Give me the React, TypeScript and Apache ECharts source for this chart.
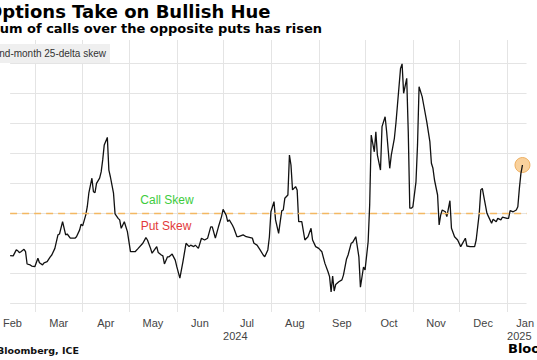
import React, { useEffect, useRef } from "react";
import * as echarts from "echarts";

// Second-month 25-delta skew (call minus put, vol points)
const dates: string[] = [
  "2024-02-14","2024-02-16","2024-02-18","2024-02-19","2024-02-20","2024-02-21","2024-02-23","2024-02-24","2024-02-25","2024-02-27","2024-02-28",
  "2024-03-01","2024-03-03","2024-03-04","2024-03-06","2024-03-07","2024-03-09","2024-03-11","2024-03-12","2024-03-14","2024-03-16","2024-03-17","2024-03-19","2024-03-21","2024-03-22","2024-03-24","2024-03-27","2024-03-28","2024-03-30","2024-03-31",
  "2024-04-01","2024-04-03","2024-04-04","2024-04-05","2024-04-07","2024-04-08","2024-04-09","2024-04-10","2024-04-12","2024-04-13","2024-04-14","2024-04-15","2024-04-17","2024-04-18","2024-04-19","2024-04-20","2024-04-21","2024-04-22","2024-04-24","2024-04-25","2024-04-26","2024-04-28","2024-04-30",
  "2024-05-02","2024-05-03","2024-05-05","2024-05-07","2024-05-10","2024-05-12","2024-05-13","2024-05-15","2024-05-16","2024-05-19","2024-05-20","2024-05-22","2024-05-23","2024-05-24","2024-05-26","2024-05-27","2024-05-29","2024-05-31",
  "2024-06-01","2024-06-03","2024-06-05","2024-06-07","2024-06-09","2024-06-10","2024-06-12","2024-06-13","2024-06-15","2024-06-17","2024-06-19","2024-06-21","2024-06-23","2024-06-24","2024-06-26","2024-06-28","2024-06-30",
  "2024-07-01","2024-07-03","2024-07-04","2024-07-05","2024-07-07","2024-07-08","2024-07-10","2024-07-11","2024-07-14","2024-07-16","2024-07-18","2024-07-20","2024-07-21","2024-07-23","2024-07-25","2024-07-27","2024-07-28","2024-07-30","2024-07-31",
  "2024-08-01","2024-08-03","2024-08-04","2024-08-06","2024-08-08","2024-08-09","2024-08-10","2024-08-12","2024-08-13","2024-08-14","2024-08-15","2024-08-17","2024-08-18","2024-08-19","2024-08-21","2024-08-23","2024-08-25","2024-08-27","2024-08-28","2024-08-30",
  "2024-09-01","2024-09-03","2024-09-05","2024-09-07","2024-09-08","2024-09-09","2024-09-10","2024-09-11","2024-09-12","2024-09-14","2024-09-16","2024-09-17","2024-09-19","2024-09-20","2024-09-22","2024-09-23","2024-09-25","2024-09-27","2024-09-28","2024-09-30",
  "2024-10-01","2024-10-03","2024-10-04","2024-10-05","2024-10-07","2024-10-08","2024-10-09","2024-10-11","2024-10-12","2024-10-14","2024-10-15","2024-10-17","2024-10-18","2024-10-20","2024-10-21","2024-10-22","2024-10-24","2024-10-25","2024-10-26","2024-10-28","2024-10-29","2024-10-30","2024-10-31",
  "2024-11-01","2024-11-03","2024-11-04","2024-11-05","2024-11-07","2024-11-08","2024-11-10","2024-11-12","2024-11-13","2024-11-14","2024-11-15","2024-11-17","2024-11-18","2024-11-19","2024-11-20","2024-11-22","2024-11-23","2024-11-25","2024-11-26","2024-11-28","2024-11-30",
  "2024-12-02","2024-12-05","2024-12-06","2024-12-08","2024-12-11","2024-12-12","2024-12-14","2024-12-15","2024-12-16","2024-12-17","2024-12-19","2024-12-20","2024-12-22","2024-12-23","2024-12-25","2024-12-26","2024-12-28","2024-12-29",
  "2025-01-01","2025-01-02","2025-01-03","2025-01-05","2025-01-07","2025-01-08","2025-01-09","2025-01-10","2025-01-11",
];

const skew: number[] = [
  -1.42,-1.43,-1.23,-1.26,-1.32,-1.29,-1.21,-1.29,-1.70,-1.73,-1.77,
  -1.79,-1.51,-1.66,-1.73,-1.66,-1.62,-1.46,-1.40,-1.18,-0.73,-0.70,-0.29,-0.73,-0.70,-0.84,-0.84,-0.79,-0.57,-0.37,
  -0.43,-0.07,0.21,0.66,1.16,0.71,0.68,0.99,1.16,1.37,1.77,2.27,2.52,1.43,1.20,0.93,0.66,-0.03,-0.18,-0.23,-0.51,-0.29,-0.62,
  -1.29,-1.29,-1.29,-1.18,-1.01,-0.82,-0.90,-1.18,-1.34,-1.12,-1.32,-1.40,-1.43,-1.70,-1.46,-1.46,-1.37,-1.57,
  -1.79,-2.17,-1.62,-1.01,-1.12,-1.07,-1.12,-1.07,-1.18,-0.84,-0.90,-0.84,-0.46,-0.46,-0.84,-0.46,-0.12,
  0.12,-0.07,-0.29,-0.23,-0.40,-0.51,-0.79,-0.79,-0.73,-0.79,-0.81,-0.84,-1.01,-1.07,-1.23,-1.40,-1.46,-1.23,-0.80,
  0.04,0.38,-0.23,-0.68,0.07,0.10,0.49,0.60,1.93,1.60,0.77,0.88,0.77,-0.29,-0.29,-0.90,-0.79,-0.51,-0.90,-1.12,
  -1.18,-1.29,-1.68,-1.96,-2.12,-2.63,-2.10,-2.60,-2.38,-2.29,-2.23,-2.07,-1.53,-1.40,-1.01,-0.98,-0.79,-1.46,-2.47,-1.80,
  -1.90,-0.96,0.27,2.60,2.04,2.71,1.93,1.43,2.88,3.21,2.71,1.49,1.93,2.49,2.99,3.60,4.82,4.97,3.99,4.49,2.71,0.16,0.16,
  0.21,1.04,2.27,4.21,3.88,3.60,3.04,2.38,1.66,1.49,1.10,0.60,-0.40,-0.07,0.10,0.04,-0.12,0.41,-0.51,-0.79,-0.90,
  -1.12,-0.84,-1.10,-1.12,-1.12,-0.90,-0.01,0.77,0.82,0.54,-0.01,-0.12,-0.34,-0.21,-0.29,-0.18,-0.23,-0.14,
  -0.18,-0.18,0.08,0.04,0.10,0.21,0.82,1.32,1.60,
];

// month boundaries (grid lines) and month label positions (mid-month)
const monthStarts: string[] = [
  "2024-03-01","2024-04-01","2024-05-01","2024-06-01","2024-07-01","2024-08-01",
  "2024-09-01","2024-10-01","2024-11-01","2024-12-01","2025-01-01",
];
const monthLabelDates: string[] = [
  "2024-02-15 12:00","2024-03-16 12:00","2024-04-16 00:00","2024-05-16 12:00","2024-06-16 00:00",
  "2024-07-16 12:00","2024-08-16 12:00","2024-09-16 00:00","2024-10-16 12:00","2024-11-16 00:00",
  "2024-12-16 12:00","2025-01-12 18:00",
];
const monthNames: string[] = ["Jan","Feb","Mar","Apr","May","Jun","Jul","Aug","Sep","Oct","Nov","Dec"];
const yearLabelDates: string[] = ["2024-07-01","2025-01-01"];
const yTicks: number[] = [-3, -2, -1, 0, 1, 2, 3, 4, 5];

const parse = (s: string) => {
  const [d, t] = s.split(" ");
  const [y, m, dd] = d.split("-").map(Number);
  let h = 0, mi = 0;
  if (t) { [h, mi] = t.split(":").map(Number); }
  return Date.UTC(y, m - 1, dd, h, mi);
};

export default function App() {
  const ref = useRef<HTMLDivElement>(null);
  useEffect(() => {
    if (!ref.current) return;
    const chart = echarts.init(ref.current, undefined, { renderer: "svg" });
    const lineData = dates.map((d, i) => [parse(d), skew[i]]);
    const last = lineData[lineData.length - 1];
    const xMin = parse("2024-02-14");
    const xMax = parse("2025-01-13 15:30");
    chart.setOption({
      animation: false,
      grid: { left: 0, right: 0, top: 40, bottom: 48, containLabel: false },
      xAxis: [
        {
          type: "value",
          min: xMin,
          max: xMax,
          axisLine: { show: false },
          axisTick: { show: false, customValues: monthStarts.map(parse) },
          splitLine: { show: true, lineStyle: { color: "#e4e4e4", width: 1 } },
          axisLabel: {
            customValues: monthLabelDates.map(parse),
            formatter: (v: number) => monthNames[new Date(v).getUTCMonth()],
            color: "#444444",
            fontSize: 11,
            fontFamily: "Liberation Sans",
            margin: 5,
            align: "center",
            showMinLabel: true,
            showMaxLabel: true,
          },
        },
        {
          type: "value",
          position: "bottom",
          min: xMin,
          max: xMax,
          axisLine: { show: false },
          axisTick: { show: false, customValues: yearLabelDates.map(parse) },
          splitLine: { show: false },
          axisLabel: {
            customValues: yearLabelDates.map(parse),
            formatter: (v: number) => String(new Date(v).getUTCFullYear()),
            color: "#444444",
            fontSize: 11,
            fontFamily: "Liberation Sans",
            margin: 18,
            align: "left",
          },
        },
      ],
      yAxis: {
        type: "value",
        min: -3.3,
        max: 5.7667,
        axisLine: { show: false },
        axisTick: { show: false, customValues: yTicks },
        axisLabel: { show: false },
        splitLine: { show: true, lineStyle: { color: "#e4e4e4", width: 1 } },
      },
      series: [
        {
          type: "scatter",
          data: [last],
          symbolSize: 15,
          z: 1,
          itemStyle: { color: "rgba(245,178,90,0.75)", borderColor: "#eaa24a", borderWidth: 1 },
          silent: true,
        },
        {
          type: "line",
          data: lineData,
          showSymbol: false,
          symbol: "none",
          z: 3,
          lineStyle: { color: "#111111", width: 1.3 },
          markLine: {
            silent: true,
            symbol: ["none", "none"],
            label: { show: false },
            lineStyle: { color: "#f3b862", type: [7, 5], width: 1.3 },
            data: [{ yAxis: 0 }],
          },
        },
      ],
      graphic: [
        {
          type: "text", x: -13, y: 11, z: 100,
          style: { text: "Options Take on Bullish Hue", font: 'bold 18px "DejaVu Sans"', fill: "#000000", verticalAlign: "middle", align: "left" },
        },
        {
          type: "text", x: 322, y: 28.5, z: 100,
          style: { text: "Premium of calls over the opposite puts has risen", font: 'bold 13px "DejaVu Sans"', fill: "#000000", verticalAlign: "middle", align: "right" },
        },
        { type: "rect", shape: { x: -30, y: 44, width: 140, height: 19 }, z: 100, style: { fill: "#efefef" } },
        {
          type: "text", x: 106, y: 53.5, z: 101,
          style: { text: "Second-month 25-delta skew", font: '10px "Liberation Sans"', fill: "#333333", verticalAlign: "middle", align: "right" },
        },
        {
          type: "text", x: 167, y: 199.5, z: 100,
          style: { text: "Call Skew", font: '12px "Liberation Sans"', fill: "#3dcc3d", verticalAlign: "middle", align: "center" },
        },
        {
          type: "text", x: 166, y: 226, z: 100,
          style: { text: "Put Skew", font: '12px "Liberation Sans"', fill: "#e23a3a", verticalAlign: "middle", align: "center" },
        },
        {
          type: "text", x: 79, y: 350.5, z: 100,
          style: { text: "Source: Bloomberg, ICE", font: 'bold 9.5px "DejaVu Sans"', fill: "#111111", verticalAlign: "middle", align: "right" },
        },
        {
          type: "text", x: 508, y: 348, z: 100,
          style: { text: "Bloomberg", font: 'bold 13px "DejaVu Sans"', fill: "#000000", verticalAlign: "middle", align: "left" },
        },
      ],
    });
    return () => chart.dispose();
  }, []);
  return (
    <div
      ref={ref}
      style={{ position: "fixed", left: 0, top: 0, width: 537, height: 360, background: "#ffffff" }}
    />
  );
}
